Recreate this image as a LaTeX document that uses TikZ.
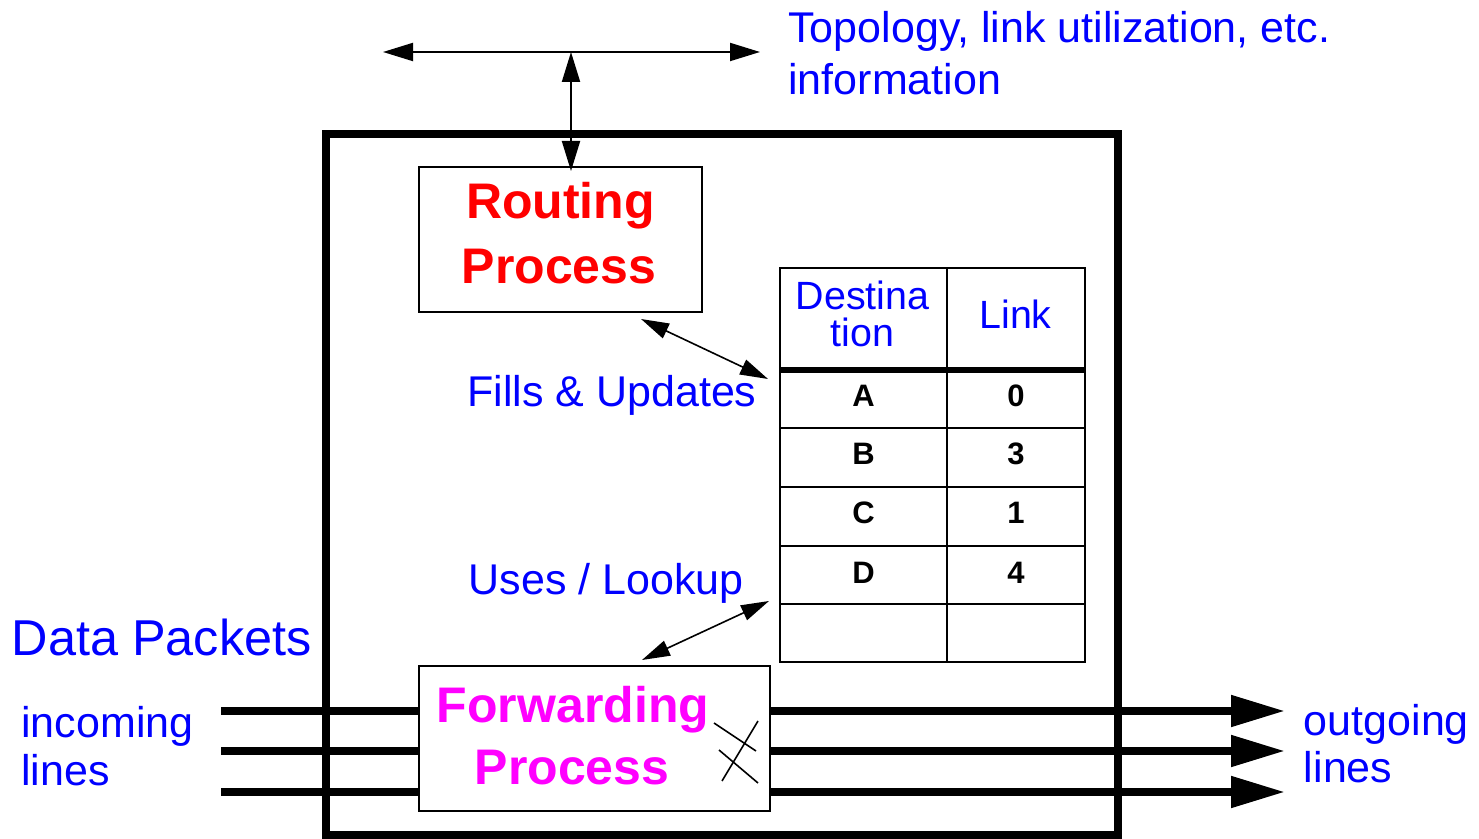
\documentclass[tikz,border=0pt]{standalone}
\usepackage{fontspec}
\setmainfont{Liberation Sans}
\usetikzlibrary{arrows.meta}
\definecolor{lblblue}{RGB}{0,0,255}
\definecolor{procred}{RGB}{255,0,0}
\definecolor{procmag}{RGB}{255,0,255}
\tikzset{
  x=0.5pt, y=-0.5pt,
  wire/.style={line width=1pt},
  dbl/.style={line width=1pt, {Triangle[length=15pt,width=9pt]}-{Triangle[length=15pt,width=9pt]}},
  sdbl/.style={line width=0.8pt, {Triangle[length=14pt,width=8pt]}-{Triangle[length=14pt,width=8pt]}},
  data/.style={line width=4pt},
  dataout/.style={data, -{Triangle[length=27pt,width=15pt]}},
  procbox/.style={draw, line width=1pt, fill=white, inner sep=0pt, minimum height=72.5pt},
  lbl/.style={text=lblblue, inner sep=0pt, font=\fontsize{21.5pt}{25pt}\selectfont},
  proctext/.style={inner sep=0pt, anchor=base, font=\fontsize{25pt}{30pt}\selectfont\bfseries},
  headtext/.style={text=lblblue, inner sep=0pt, anchor=base, font=\fontsize{19.7pt}{18.5pt}\selectfont},
  celltext/.style={inner sep=0pt, anchor=base, font=\fontsize{15.5pt}{18pt}\selectfont\bfseries},
}
\begin{document}
\begin{tikzpicture}
\useasboundingbox (0,0) rectangle (1479,839);

% router enclosure
\draw[line width=4pt] (326,134) rectangle (1118,835);

% processes
\node[procbox, minimum width=141.5pt] (routing) at (560.5,239.5) {};
\node[proctext, text=procred] (rt1) at (560.5,219) {Routing};
\node[proctext, text=procred] (rt2) at (559,284) {Process};

% routing table
\node[draw, line width=1pt, inner sep=0pt, minimum width=152.5pt, minimum height=197pt] (tbl) at (932.5,465) {};
\draw[wire] (947,268) -- (947,662);
\draw[line width=3pt] (780,370) -- (1085,370);
\foreach \yy in {428,487,546,604} \draw[wire] (780,\yy) -- (1085,\yy);
\node[headtext] (hdest1) at (862.5,310) {Destina};
\node[headtext] (hdest2) at (862.5,347) {tion};
\node[headtext] (hlink) at (1015.5,329) {Link};
\node[celltext] (dA) at (863.5,407) {A};
\node[celltext] (dB) at (863.5,465) {B};
\node[celltext] (dC) at (863.5,524) {C};
\node[celltext] (dD) at (863.5,584) {D};
\node[celltext] (l0) at (1016,407) {0};
\node[celltext] (l3) at (1016,465) {3};
\node[celltext] (l1) at (1016,524) {1};
\node[celltext] (l4) at (1016,584) {4};

% data lines through the forwarding process
\coordinate (in1) at (221,711);
\coordinate (in2) at (221,751);
\coordinate (in3) at (221,792);
\coordinate (out1) at (1285,711);
\coordinate (out2) at (1285,751);
\coordinate (out3) at (1285,792);
\node[procbox, minimum width=175.5pt] (fwd) at (594.5,738.5) {};
\foreach \i in {1,2,3} {
  \draw[data] (in\i) -- (in\i -| fwd.west);
  \draw[dataout] (in\i -| fwd.east) -- (out\i);
}
\node[proctext, text=procmag] (ft1) at (573,722) {Forwarding};
\node[proctext, text=procmag] (ft2) at (572,784) {Process};

% switching crossings
\draw[line width=0.8pt] (714,723) -- (756,751);
\draw[line width=0.8pt] (758,721) -- (722,781);
\draw[line width=0.8pt] (719,750) -- (758,783);

% information exchange with neighbours
\coordinate (infoL) at (383,52);
\coordinate (infoR) at (760,52);
\coordinate (hub) at (571,52);
\draw[dbl] (infoL) -- (infoR);
\draw[dbl, shorten >=-2.5pt] (hub) -- (hub |- routing.north);

% table access
\coordinate (rpEnd) at (641,319);
\coordinate (tbFill) at (768,379);
\coordinate (fpEnd) at (642,660);
\coordinate (tbUse) at (769,601);
\draw[sdbl] (rpEnd) -- (tbFill);
\draw[sdbl] (fpEnd) -- (tbUse);

% labels
\node[lbl, anchor=base west] (topo) at (788,43) {Topology, link utilization, etc.};
\node[lbl, anchor=base west] (info) at (788,95) {information};
\node[lbl, anchor=base west] (fills) at (467,407) {Fills \& Updates};
\node[lbl, anchor=base west] (uses) at (468.5,595) {Uses / Lookup};
\node[lbl, anchor=base west, font=\fontsize{25.2pt}{30pt}\selectfont] (pk) at (11.5,655) {Data Packets};
\node[lbl, anchor=base west] (inc1) at (21,737) {incoming};
\node[lbl, anchor=base west] (inc2) at (21,785) {lines};
\node[lbl, anchor=base west] (out1l) at (1303.5,735) {outgoing};
\node[lbl, anchor=base west] (out2l) at (1303.5,782) {lines};
\end{tikzpicture}
\end{document}
